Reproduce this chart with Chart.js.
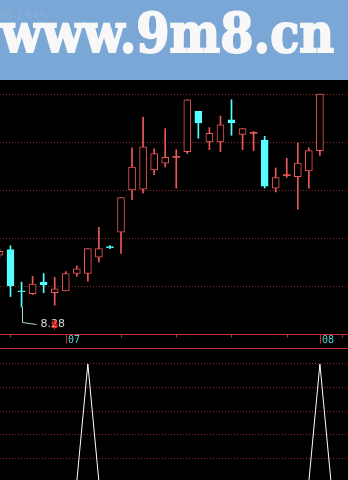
<!DOCTYPE html>
<html>
<head>
<meta charset="utf-8">
<script src="https://cdn.jsdelivr.net/npm/chart.js@4.4.1/dist/chart.umd.min.js"></script>
<style>
  html, body { margin: 0; padding: 0; background: #000; width: 348px; height: 480px; overflow: hidden; }
  #banner { position: absolute; left: 0; top: 0; width: 348px; height: 80px; background: #7ba7d6; overflow: hidden; }
  #site { position: absolute; left: 1px; top: 6px; font: bold 54px/54px "DejaVu Serif"; color: #f8f8f8;
          -webkit-text-stroke: 2px #f8f8f8; white-space: nowrap; transform-origin: 0 0; }
  #quote { position: absolute; left: 0; top: 10px; font: 10px "DejaVu Sans"; color: rgba(255,255,255,0.13); }
  #priceChart { position: absolute; left: 0; top: 80px; }
  #signalChart { position: absolute; left: 0; top: 348px; }
</style>
</head>
<body>
<div id="banner"><span id="quote">80-2.64%</span><span id="site">www.9m8.cn</span></div>
<canvas id="priceChart" width="348" height="268"></canvas>
<canvas id="signalChart" width="348" height="140"></canvas>
<script>
  // daily candles, one per trading day
  const opens  = [8.82, 8.88, 8.45, 8.42, 8.54, 8.43, 8.45, 8.63, 8.63, 8.80, 8.91, 9.06, 9.50, 9.51, 9.71,
                  9.78, 9.84, 9.90, 10.32, 10.00, 10.00, 10.23, 10.08, 10.09, 10.02, 9.52, 9.65, 9.64, 9.70, 9.91];
  const highs  = [8.89, 8.92, 8.54, 8.60, 8.63, 8.59, 8.65, 8.71, 8.89, 9.11, 8.92, 9.42, 9.94, 10.26, 9.93,
                  10.14, 9.92, 10.44, 10.32, 10.15, 10.27, 10.44, 10.14, 10.11, 10.06, 9.73, 9.83, 9.99, 9.94, 10.50];
  const lows   = [8.80, 8.39, 8.28, 8.41, 8.43, 8.30, 8.45, 8.60, 8.55, 8.75, 8.89, 8.84, 9.40, 9.47, 9.66,
                  9.74, 9.52, 9.88, 10.04, 9.92, 9.90, 10.07, 9.92, 9.91, 9.52, 9.48, 9.63, 9.30, 9.52, 9.86];
  const closes = [8.86, 8.50, 8.44, 8.52, 8.51, 8.47, 8.63, 8.68, 8.89, 8.89, 8.90, 9.42, 9.74, 9.95, 9.88,
                  9.84, 9.84, 10.44, 10.20, 10.09, 10.18, 10.20, 10.14, 10.09, 9.54, 9.63, 9.65, 9.78, 9.91, 10.50];
  // signal indicator (lower panel)
  const signal = [0, 0, 0, 0, 0, 0, 0, 0, 1, 0, 0, 0, 0, 0, 0,
                  0, 0, 0, 0, 0, 0, 0, 0, 0, 0, 0, 0, 0, 0, 1, 0];

  const tickIdx = [1, 6, 11, 16, 21, 26, 31];
  const monthIdx = [6, 29];
  const monthText = ['07', '08'];
  const priceLevels = [8.49, 8.99, 9.49, 9.99, 10.49];
  const signalLevels = [0.2, 0.4, 0.6, 0.8, 1.0];
  const lowIdx = 2;
  const lowText = '8.28';
  const markIdx = 5;

  const upRed = '#ee5858';
  const downCyan = '#55ffff';
  const gridRed = '#962828';
  const axisRed = '#c83030';

  const site = document.getElementById('site');
  site.style.transform = 'scaleX(' + (333 / site.offsetWidth) + ')';

  const idx = opens.map((v, i) => i);
  const isUp = i => closes[i] >= opens[i];
  const isDoji = i => Math.abs(closes[i] - opens[i]) < 0.005;
  const colorOf = i => isUp(i) ? upRed : downCyan;

  const xScale = { type: 'linear', min: 0.05, max: 31.543, offset: false, display: false };

  const axisStrip = {
    id: 'axisStrip',
    afterDraw(chart) {
      const { ctx, chartArea, scales: { x, y } } = chart;
      const yb = Math.round(chartArea.bottom) + 0.5;
      ctx.save();
      ctx.strokeStyle = axisRed;
      ctx.lineWidth = 1;
      ctx.beginPath();
      ctx.moveTo(0, yb);
      ctx.lineTo(chart.width, yb);
      tickIdx.forEach(k => {
        const px = Math.round(x.getPixelForValue(k)) + 0.5;
        ctx.moveTo(px, yb);
        ctx.lineTo(px, yb + 3);
      });
      monthIdx.forEach(k => {
        const px = Math.round(x.getPixelForValue(k)) + 0.5;
        ctx.moveTo(px, yb);
        ctx.lineTo(px, yb + 9);
      });
      ctx.stroke();

      ctx.fillStyle = '#5ccfd6';
      ctx.font = '10px "DejaVu Sans Mono"';
      ctx.textBaseline = 'middle';
      monthIdx.forEach((k, j) => {
        const px = Math.round(x.getPixelForValue(k));
        ctx.fillText(monthText[j], px + 2, yb + 6);
      });

      // lowest price note
      const lx = Math.round(x.getPixelForValue(lowIdx)) + 0.5;
      const ly = y.getPixelForValue(lows[lowIdx]);
      ctx.strokeStyle = '#a6d6da';
      ctx.beginPath();
      ctx.moveTo(lx, ly);
      ctx.lineTo(lx, yb - 12);
      ctx.lineTo(lx + 14, yb - 10);
      ctx.stroke();
      ctx.fillStyle = '#d8d8d8';
      ctx.font = '11px "DejaVu Sans"';
      ctx.fillText(lowText, lx + 18, yb - 10);

      ctx.fillStyle = '#ff2020';
      ctx.font = 'bold 11px "DejaVu Sans"';
      ctx.textAlign = 'center';
      ctx.fillText('$', x.getPixelForValue(markIdx), yb - 9);
      ctx.restore();
    }
  };

  new Chart(document.getElementById('priceChart'), {
    type: 'bar',
    data: {
      datasets: [{
        label: 'body',
        data: idx.map(i => ({ x: i, y: [opens[i], closes[i]] })),
        grouped: false,
        order: 1,
        barThickness: 7,
        minBarLength: 1,
        borderSkipped: false,
        borderWidth: c => isDoji(c.dataIndex) ? 0 : 1,
        borderColor: c => colorOf(c.dataIndex),
        backgroundColor: c => {
          const i = c.dataIndex;
          if (isDoji(i) || !isUp(i)) return colorOf(i);
          return '#000';
        }
      }, {
        label: 'wick',
        data: idx.map(i => ({ x: i, y: [lows[i], highs[i]] })),
        grouped: false,
        order: 2,
        barThickness: 1,
        borderWidth: 0,
        backgroundColor: c => colorOf(c.dataIndex)
      }]
    },
    options: {
      responsive: false,
      animation: false,
      layout: { padding: { left: 0, right: 0, top: 0, bottom: 14 } },
      plugins: { legend: { display: false }, tooltip: { enabled: false } },
      scales: {
        x: xScale,
        y: {
          min: 8.0,
          max: 10.646,
          afterBuildTicks: s => { s.ticks = priceLevels.map(v => ({ value: v })); },
          ticks: { display: false },
          grid: { color: gridRed, lineWidth: 1, drawTicks: false },
          border: { display: false, dash: [1, 2] }
        }
      }
    },
    plugins: [axisStrip]
  });

  const topLine = {
    id: 'topLine',
    afterDraw(chart) {
      const ctx = chart.ctx;
      ctx.save();
      ctx.strokeStyle = axisRed;
      ctx.beginPath();
      ctx.moveTo(0, 0.5);
      ctx.lineTo(chart.width, 0.5);
      ctx.stroke();
      ctx.restore();
    }
  };

  new Chart(document.getElementById('signalChart'), {
    type: 'line',
    data: {
      datasets: [{
        data: signal.map((v, i) => ({ x: i, y: v })),
        borderColor: '#ffffff',
        borderWidth: 1,
        pointRadius: 0,
        tension: 0
      }]
    },
    options: {
      responsive: false,
      animation: false,
      layout: { padding: { left: 0, right: 0, top: 0, bottom: 4 } },
      plugins: { legend: { display: false }, tooltip: { enabled: false } },
      scales: {
        x: xScale,
        y: {
          min: -0.021,
          max: 1.136,
          afterBuildTicks: s => { s.ticks = signalLevels.map(v => ({ value: v })); },
          ticks: { display: false },
          grid: { color: gridRed, lineWidth: 1, drawTicks: false },
          border: { display: false, dash: [1, 2] }
        }
      }
    },
    plugins: [topLine]
  });
</script>
</body>
</html>
